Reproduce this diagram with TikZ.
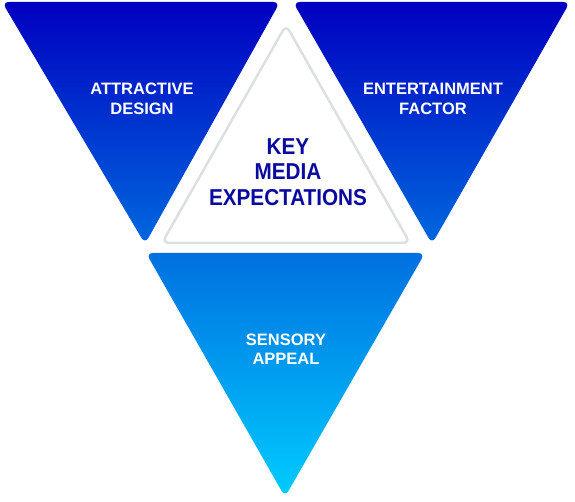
\documentclass[tikz,border=0pt]{standalone}
\usepackage{fontspec}
\setmainfont{Liberation Sans}
\begin{document}
\begin{tikzpicture}[x=1pt,y=1pt,
  tri/.style={rounded corners=7pt},
  lab/.style={text=white,font=\fontsize{16.5}{19.5}\selectfont\bfseries,align=center},
  keylab/.style={text=keyblue,font=\fontsize{23}{25.5}\selectfont\bfseries,align=center}]
\definecolor{topdark}{HTML}{0000C0}
\definecolor{topmid}{HTML}{0068DE}
\definecolor{botdark}{HTML}{0070E0}
\definecolor{botlight}{HTML}{00CCFF}
\definecolor{keyblue}{HTML}{0A0AA0}
\definecolor{rim}{HTML}{DCE0E0}
\useasboundingbox (0,0) rectangle (575,502);
% top-left triangle
\shade[tri,top color=topdark,bottom color=topmid] (2,500) -- (280,500) -- (145,258) -- cycle;
% top-right triangle
\shade[tri,top color=topdark,bottom color=topmid] (293,500) -- (570,500) -- (432,258) -- cycle;
% centre triangle
\draw[tri,fill=white,draw=rim,line width=2.5pt] (286,477) -- (410,259) -- (162,259) -- cycle;
% bottom triangle
\shade[tri,top color=botdark,bottom color=botlight] (146,249) -- (425,249) -- (285,5) -- cycle;
\node[lab] (attr) at (142,403) {ATTRACTIVE\\DESIGN};
\node[lab] (ent) at (433,403) {ENTERTAINMENT\\FACTOR};
\node[lab] (sensory) at (286,153) {SENSORY\\APPEAL};
\node[keylab] (key) at (288,330) {\scalebox{0.9}[1]{KEY}\\\scalebox{0.9}[1]{MEDIA}\\\scalebox{0.9}[1]{EXPECTATIONS}};
\end{tikzpicture}
\end{document}
